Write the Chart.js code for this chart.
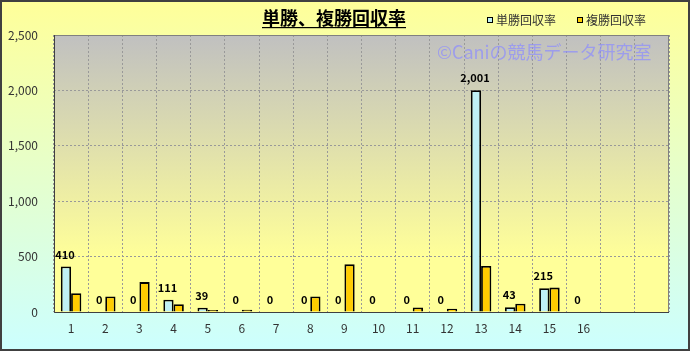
<!DOCTYPE html>
<html>
<head>
<meta charset="utf-8">
<script src="https://cdn.jsdelivr.net/npm/chart.js@4"></script>
<style>
  html, body { margin: 0; padding: 0; background: #fff; }
  canvas { display: block; }
</style>
</head>
<body>
<canvas id="chart" width="690" height="351"></canvas>
<script>
const categories = ["1","2","3","4","5","6","7","8","9","10","11","12","13","14","15","16","",""];
const tanshoValues = [410, 0, 0, 111, 39, 0, 0, 0, 0, 0, 0, 0, 2001, 43, 215, 0, null, null];
const fukushoValues = [170, 140, 270, 70, 18, 20, 0, 140, 430, 0, 40, 30, 415, 75, 220, 0, null, null];
const seriesNames = ["単勝回収率", "複勝回収率"];
const chartTitle = "単勝、複勝回収率";
const watermark = "©Caniの競馬データ研究室";

const font = "'Noto Sans CJK JP', 'DejaVu Sans', sans-serif";

const decorPlugin = {
  id: "decor",
  beforeDraw(chart) {
    const { ctx, chartArea: a, width, height } = chart;
    ctx.save();
    // outer background
    let g = ctx.createLinearGradient(0, 0, 0, height);
    g.addColorStop(0, "#FFFF99");
    g.addColorStop(1, "#CCFFFF");
    ctx.fillStyle = g;
    ctx.fillRect(0, 0, width, height);
    // plot area background
    g = ctx.createLinearGradient(0, a.top, 0, a.bottom);
    g.addColorStop(0, "#C0C0C0");
    g.addColorStop(0.8, "#FFFF99");
    g.addColorStop(1, "#FFFF99");
    ctx.fillStyle = g;
    ctx.fillRect(a.left, a.top, a.right - a.left, a.bottom - a.top);
    ctx.restore();
  },
  afterDraw(chart) {
    const { ctx, chartArea: a, width, height } = chart;
    ctx.save();
    // plot frame
    ctx.strokeStyle = "#808080";
    ctx.lineWidth = 1;
    ctx.strokeRect(a.left + 0.5, a.top + 0.5, a.right - a.left - 1, a.bottom - a.top);
    ctx.strokeStyle = "#404040";
    ctx.beginPath();
    ctx.moveTo(a.left + 0.5, a.top);
    ctx.lineTo(a.left + 0.5, a.bottom + 0.5);
    ctx.lineTo(a.right, a.bottom + 0.5);
    ctx.stroke();
    // outer border
    ctx.strokeStyle = "#404040";
    ctx.lineWidth = 2;
    ctx.strokeRect(1, 1, width - 2, height - 2);

    // title
    ctx.fillStyle = "#000";
    ctx.font = "bold 18px " + font;
    ctx.textAlign = "center";
    ctx.textBaseline = "middle";
    ctx.fillText(chartTitle, 334, 18);
    const tw = ctx.measureText(chartTitle).width;
    ctx.fillRect(334 - tw / 2, 27, tw, 1.2);

    // legend
    const lx = [487, 577];
    const colors = ["#BFF0F5", "#FFCC00"];
    ctx.font = "12px " + font;
    ctx.textAlign = "left";
    seriesNames.forEach((name, i) => {
      ctx.fillStyle = colors[i];
      ctx.fillRect(lx[i], 17, 6, 6);
      ctx.strokeStyle = "#000";
      ctx.lineWidth = 1;
      ctx.strokeRect(lx[i] + 0.5, 17.5, 5, 5);
      ctx.fillStyle = "#333";
      ctx.fillText(name, lx[i] + 9, 20.5);
    });

    // watermark
    ctx.fillStyle = "rgba(140, 140, 255, 0.7)";
    ctx.font = "18px " + font;
    ctx.textAlign = "left";
    ctx.fillText(watermark, 437, 52);

    // value labels on 単勝 bars
    const meta = chart.getDatasetMeta(0);
    ctx.fillStyle = "#000";
    ctx.font = "bold 11px " + font;
    ctx.textAlign = "center";
    ctx.textBaseline = "middle";
    meta.data.forEach((bar, i) => {
      const v = tanshoValues[i];
      if (v === null) return;
      ctx.fillText(v.toLocaleString("en-US"), bar.x - 1, bar.y - 12);
    });
    ctx.restore();
  },
};

function cyanFill(c) {
  const el = c.element;
  if (!el || !Number.isFinite(el.x)) return "#BFF0F5";
  const g = c.chart.ctx.createLinearGradient(el.x - 5, 0, el.x + 5, 0);
  g.addColorStop(0, "#A8DDE6");
  g.addColorStop(0.5, "#DDFFFF");
  g.addColorStop(1, "#A8DDE6");
  return g;
}

new Chart(document.getElementById("chart").getContext("2d"), {
  type: "bar",
  data: {
    labels: categories,
    datasets: [
      {
        label: seriesNames[0],
        data: tanshoValues,
        backgroundColor: cyanFill,
        borderColor: "#000",
        borderWidth: 1.8,
        borderSkipped: "bottom",
        categoryPercentage: 0.6,
        barPercentage: 1.0,
      },
      {
        label: seriesNames[1],
        data: fukushoValues,
        backgroundColor: "#FFCC00",
        borderColor: "#000",
        borderWidth: 1.8,
        borderSkipped: "bottom",
        categoryPercentage: 0.6,
        barPercentage: 1.0,
      },
    ],
  },
  options: {
    responsive: false,
    animation: false,
    layout: { padding: { top: 35, right: 21, left: 0, bottom: 0 } },
    plugins: {
      legend: { display: false },
      title: { display: false },
      tooltip: { enabled: false },
    },
    scales: {
      x: {
        grid: {
          offset: true,
          color: "#999999",
          lineWidth: 1,
          drawTicks: false,
        },
        border: { display: false, dash: [2, 2] },
        ticks: {
          color: "#333",
          font: { family: font, size: 12 },
          padding: 9,
          maxRotation: 0,
          autoSkip: false,
        },
        afterFit(s) { s.height = 39; },
      },
      y: {
        min: 0,
        max: 2500,
        grid: { color: "#999999", drawTicks: false },
        border: { display: false, dash: [2, 2] },
        ticks: {
          stepSize: 500,
          color: "#333",
          font: { family: font, size: 12 },
          padding: 16,
          callback: (v) => v.toLocaleString("en-US"),
        },
        afterFit(s) { s.width = 54; },
      },
    },
  },
  plugins: [decorPlugin],
});
</script>
</body>
</html>
